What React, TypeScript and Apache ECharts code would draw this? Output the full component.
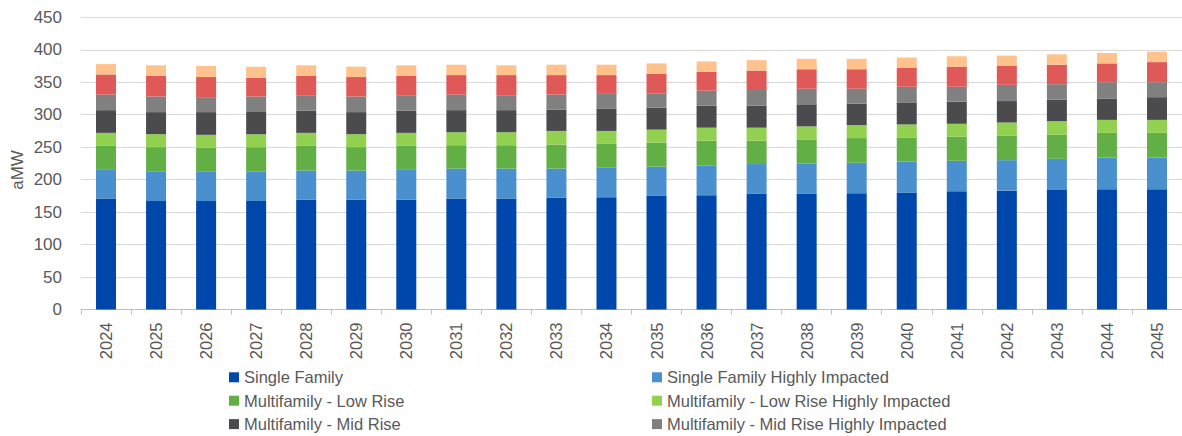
import React, { useEffect, useRef } from "react";
import * as echarts from "echarts";

const years = ["2024","2025","2026","2027","2028","2029","2030","2031","2032","2033","2034","2035","2036","2037","2038","2039","2040","2041","2042","2043","2044","2045"];
const yTicks = { min: 0, max: 450, interval: 50 };

const singleFamily = [171,167,167,167,169,169,169,171,171,172,173,175,176,178,178,179,180,182,183,184,185,185];
const singleFamilyHI = [44,45,45,45,45,45,46,46,46,45,46,45,46,46,47,47,48,47,47,48,49,49];
const mfLowRise = [37,38,37,38,38,36,37,36,36,37,36,37,38,36,37,38,37,37,38,37,38,38];
const mfLowRiseHI = [20,20,20,20,20,20,20,20,20,21,20,20,20,20,20,20,20,20,20,21,20,20];
const mfMidRise = [35,34,35,34,34,34,34,34,34,33,34,34,34,34,34,33,34,34,33,33,33,35];
const mfMidRiseHI = [24,24,23,24,24,24,24,24,23,23,23,22,23,24,24,23,24,23,25,24,25,23];
const mfHighRise = [31,32,31,29,30,30,30,30,31,30,29,30,29,30,30,30,29,31,29,30,29,31];
const mfHighRiseHI = [16,16,17,17,16,16,16,16,15,16,16,16,16,16,16,16,16,16,16,16,16,16];

const seriesDefs = [
  { name: "Single Family", data: singleFamily, color: "#0047AB" },
  { name: "Single Family Highly Impacted", data: singleFamilyHI, color: "#4A90CE" },
  { name: "Multifamily - Low Rise", data: mfLowRise, color: "#62AF45" },
  { name: "Multifamily - Low Rise Highly Impacted", data: mfLowRiseHI, color: "#92D050" },
  { name: "Multifamily - Mid Rise", data: mfMidRise, color: "#4B4B4D" },
  { name: "Multifamily - Mid Rise Highly Impacted", data: mfMidRiseHI, color: "#808080" },
  { name: "Multifamily - High Rise", data: mfHighRise, color: "#E05959" },
  { name: "Multifamily - High Rise Highly Impacted", data: mfHighRiseHI, color: "#FFC28C" },
];

const legendLeftCol = [seriesDefs[0].name, seriesDefs[2].name, seriesDefs[4].name];
const legendRightCol = [seriesDefs[1].name, seriesDefs[3].name, seriesDefs[5].name];

const FONT = "'Liberation Sans', Arial, sans-serif";
const TEXT = "#595959";

export default function App() {
  const ref = useRef<HTMLDivElement>(null);
  useEffect(() => {
    if (!ref.current) return;
    const chart = echarts.init(ref.current, undefined, { renderer: "svg" });
    const legendCommon = {
      orient: "vertical",
      top: 367.3,
      height: 68,
      padding: 0,
      itemWidth: 10,
      itemHeight: 10,
      itemGap: 3.4,
      icon: "rect",
      selectedMode: false,
      textStyle: { color: TEXT, fontSize: 16.5, fontFamily: FONT, lineHeight: 20 },
    };
    chart.setOption({
      animation: false,
      backgroundColor: "#ffffff",
      textStyle: { fontFamily: FONT },
      grid: { left: 81, top: 17.3, width: 1106, height: 292.2, containLabel: false },
      legend: [
        { ...legendCommon, left: 229, data: legendLeftCol },
        { ...legendCommon, left: 652, data: legendRightCol },
      ],
      graphic: [
        {
          type: "text",
          x: 17.5,
          y: 170,
          rotation: Math.PI / 2,
          style: {
            text: "aMW",
            fill: TEXT,
            font: `17px ${FONT}`,
            align: "center",
            verticalAlign: "middle",
          },
        },
      ],
      xAxis: {
        type: "category",
        data: years,
        axisLine: { lineStyle: { color: "#BFBFBF", width: 1 } },
        axisTick: { show: true, length: 5, lineStyle: { color: "#BFBFBF" } },
        axisLabel: { rotate: 90, margin: 13, color: TEXT, fontSize: 16.5, fontFamily: FONT },
      },
      yAxis: {
        type: "value",
        min: yTicks.min,
        max: yTicks.max,
        interval: yTicks.interval,
        axisLine: { show: false },
        axisTick: { show: false },
        splitLine: { lineStyle: { color: "#D9D9D9", width: 1 } },
        axisLabel: { margin: 19, color: TEXT, fontSize: 17, fontFamily: FONT },
      },
      series: seriesDefs.map((s) => ({
        name: s.name,
        type: "bar",
        stack: "total",
        data: s.data,
        barWidth: 20,
        itemStyle: { color: s.color },
        emphasis: { disabled: true },
      })),
    });
    return () => chart.dispose();
  }, []);
  return (
    <div
      ref={ref}
      style={{ position: "fixed", left: 0, top: 0, width: 1182, height: 436, background: "#fff" }}
    />
  );
}
